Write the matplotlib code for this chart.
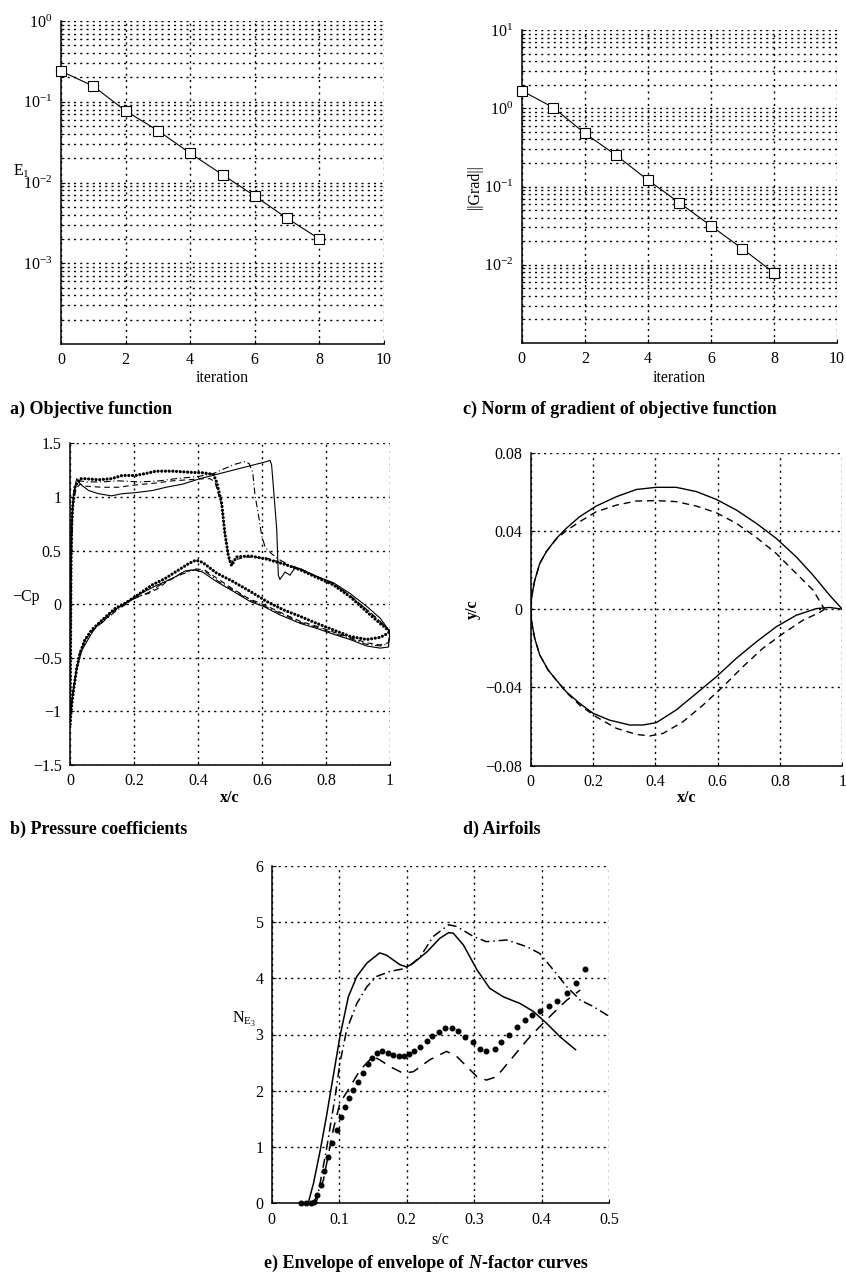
import numpy as np
import matplotlib
matplotlib.use('Agg')
import matplotlib.pyplot as plt
from matplotlib.ticker import FuncFormatter, LogLocator, NullFormatter, LogFormatterMathtext

plt.rcParams['font.family'] = ['Liberation Serif', 'DejaVu Serif']
plt.rcParams['mathtext.fontset'] = 'custom'
plt.rcParams['mathtext.rm'] = 'Liberation Serif'
plt.rcParams['mathtext.it'] = 'Liberation Serif:italic'
plt.rcParams['mathtext.bf'] = 'Liberation Serif:bold'
plt.rcParams['font.size'] = 11.5

# a) objective function and c) gradient norm vs iteration
iters = [0, 1, 2, 3, 4, 5, 6, 7, 8]
obj = [0.24, 0.156, 0.077, 0.044, 0.023, 0.0125, 0.0068, 0.0036, 0.002]
grad = [1.68, 1.02, 0.48, 0.25, 0.121, 0.062, 0.0315, 0.016, 0.0079]

# b) pressure coefficients, upper (u) and lower (l) surfaces
dot_ux = [0, 0.001, 0.002, 0.003, 0.005, 0.008, 0.012, 0.016, 0.032, 0.047, 0.089, 0.13, 0.163, 0.205, 0.247,
          0.268, 0.32, 0.374, 0.416, 0.448, 0.458, 0.474, 0.484, 0.495, 0.505, 0.52, 0.5625, 0.615, 0.667, 0.72,
          0.77, 0.823, 0.875, 0.927, 0.969, 1.0]
dot_uy = [-1.12, -0.8, -0.3, 0.3, 0.7, 0.9, 1.0, 1.1, 1.17, 1.17, 1.16, 1.17, 1.2, 1.2, 1.225,
          1.24, 1.24, 1.23, 1.225, 1.21, 1.14, 0.94, 0.66, 0.45, 0.36, 0.44, 0.45, 0.42, 0.375, 0.32,
          0.25, 0.18, 0.07, -0.07, -0.18, -0.256]
dot_lx = [0, 0.005, 0.012, 0.021, 0.031, 0.047, 0.068, 0.1, 0.141, 0.173, 0.204, 0.257, 0.298, 0.34, 0.372,
          0.393, 0.414, 0.458, 0.51, 0.5625, 0.615, 0.667, 0.72, 0.77, 0.823, 0.875, 0.927, 0.969, 0.995, 1.0]
dot_ly = [-1.12, -0.95, -0.78, -0.6, -0.46, -0.33, -0.24, -0.15, -0.04, 0.01, 0.07, 0.18, 0.24, 0.32, 0.38,
          0.41, 0.39, 0.29, 0.21, 0.12, 0.025, -0.053, -0.115, -0.178, -0.24, -0.30, -0.33, -0.31, -0.27, -0.256]

sol_ux = [0, 0.001, 0.002, 0.003, 0.005, 0.008, 0.012, 0.021, 0.032, 0.058, 0.089, 0.13, 0.163, 0.205, 0.258,
          0.3, 0.353, 0.406, 0.51, 0.615, 0.625, 0.63, 0.6375, 0.646, 0.651, 0.656, 0.672, 0.6875, 0.703, 0.72,
          0.77, 0.823, 0.875, 0.927, 0.969, 1.0]
sol_uy = [-1.05, -0.7, -0.2, 0.3, 0.7, 0.92, 1.05, 1.17, 1.12, 1.06, 1.03, 1.01, 1.03, 1.04, 1.06,
          1.09, 1.12, 1.17, 1.25, 1.33, 1.34, 1.30, 1.02, 0.70, 0.27, 0.23, 0.30, 0.27, 0.34, 0.33,
          0.26, 0.20, 0.10, -0.02, -0.13, -0.256]
sol_lx = [0, 0.005, 0.012, 0.021, 0.037, 0.068, 0.089, 0.131, 0.173, 0.215, 0.267, 0.32, 0.36, 0.387, 0.414,
          0.458, 0.51, 0.5625, 0.604, 0.656, 0.72, 0.77, 0.823, 0.875, 0.927, 0.969, 0.995, 1.0]
sol_ly = [-1.05, -0.92, -0.76, -0.6, -0.43, -0.27, -0.18, -0.07, 0.01, 0.09, 0.17, 0.24, 0.31, 0.32, 0.30,
          0.21, 0.12, 0.025, -0.02, -0.10, -0.18, -0.225, -0.28, -0.33, -0.39, -0.41, -0.40, -0.256]

dsh_ux = [0, 0.002, 0.004, 0.008, 0.012, 0.02, 0.032, 0.05, 0.1, 0.15, 0.2, 0.27, 0.32, 0.42, 0.4375,
          0.453, 0.474, 0.484, 0.495, 0.502, 0.51, 0.552, 0.615, 0.667, 0.72, 0.77, 0.823, 0.875, 0.927, 0.969, 1.0]
dsh_uy = [-1.1, -0.3, 0.4, 0.85, 1.0, 1.08, 1.12, 1.10, 1.09, 1.09, 1.11, 1.13, 1.15, 1.17, 1.17,
          1.14, 0.92, 0.66, 0.44, 0.356, 0.41, 0.44, 0.43, 0.38, 0.33, 0.26, 0.19, 0.08, -0.05, -0.16, -0.256]
low_x = [0, 0.005, 0.012, 0.021, 0.031, 0.047, 0.068, 0.089, 0.141, 0.2, 0.246, 0.277, 0.298, 0.35, 0.39,
         0.42, 0.46, 0.51, 0.56, 0.61, 0.66, 0.72, 0.77, 0.823, 0.875, 0.927, 0.969, 0.995, 1.0]
dsh_ly = [-1.1, -0.94, -0.77, -0.6, -0.46, -0.34, -0.25, -0.2, -0.06, 0.06, 0.10, 0.15, 0.2, 0.29, 0.33,
          0.32, 0.24, 0.14, 0.05, -0.01, -0.08, -0.16, -0.205, -0.26, -0.31, -0.36, -0.38, -0.36, -0.256]

dd_ux = [0, 0.002, 0.004, 0.008, 0.012, 0.02, 0.032, 0.05, 0.1, 0.15, 0.22, 0.28, 0.33, 0.40, 0.45, 0.51,
         0.547, 0.56, 0.571, 0.578, 0.589, 0.599, 0.61, 0.63, 0.651, 0.7, 0.77, 0.823, 0.875, 0.927, 0.969, 1.0]
dd_uy = [-1.1, -0.3, 0.4, 0.85, 1.0, 1.1, 1.15, 1.14, 1.14, 1.15, 1.14, 1.15, 1.17, 1.19, 1.22, 1.30,
         1.33, 1.31, 1.23, 1.02, 0.83, 0.64, 0.53, 0.47, 0.42, 0.34, 0.26, 0.19, 0.08, -0.05, -0.16, -0.256]
dd_ly = [-1.1, -0.94, -0.77, -0.6, -0.45, -0.33, -0.25, -0.2, -0.07, 0.05, 0.11, 0.17, 0.21, 0.28, 0.32,
         0.31, 0.22, 0.13, 0.04, -0.02, -0.09, -0.17, -0.215, -0.27, -0.32, -0.375, -0.39, -0.37, -0.256]

# d) airfoils
af1_ux = [0, 0.003, 0.013, 0.029, 0.05, 0.082, 0.114, 0.157, 0.21, 0.275, 0.339, 0.403, 0.467, 0.532,
          0.596, 0.66, 0.724, 0.788, 0.852, 0.906, 0.959, 1.0]
af1_uy = [0, 0.0063, 0.0148, 0.0233, 0.0294, 0.0361, 0.0413, 0.0473, 0.0527, 0.0575, 0.0612, 0.0623,
          0.0623, 0.0601, 0.0561, 0.0507, 0.0439, 0.0362, 0.0268, 0.0174, 0.0072, 0]
af1_lx = [0, 0.003, 0.013, 0.029, 0.056, 0.082, 0.114, 0.157, 0.2, 0.253, 0.318, 0.36, 0.403, 0.467,
          0.532, 0.596, 0.66, 0.724, 0.788, 0.852, 0.917, 0.959, 1.0]
af1_ly = [0, -0.0065, -0.015, -0.0234, -0.0311, -0.0362, -0.0422, -0.0481, -0.0532, -0.0567, -0.0592,
          -0.0592, -0.058, -0.0515, -0.043, -0.0345, -0.0251, -0.0167, -0.009, -0.0031, 0.0003, 0.0009, 0]
af2_ux = [0, 0.003, 0.013, 0.029, 0.05, 0.082, 0.114, 0.157, 0.21, 0.275, 0.339, 0.403, 0.467, 0.532,
          0.596, 0.66, 0.724, 0.788, 0.852, 0.906, 0.943]
af2_uy = [0, 0.0063, 0.0148, 0.0233, 0.0294, 0.0358, 0.0401, 0.0447, 0.0498, 0.0532, 0.0553, 0.0555,
          0.055, 0.0527, 0.0493, 0.0439, 0.0367, 0.0285, 0.0183, 0.0098, 0.0]
af2_lx = [0, 0.003, 0.013, 0.029, 0.056, 0.082, 0.114, 0.157, 0.21, 0.275, 0.339, 0.382, 0.425, 0.489,
          0.553, 0.617, 0.681, 0.745, 0.81, 0.874, 0.927, 0.943]
af2_ly = [0, -0.0065, -0.015, -0.0234, -0.0311, -0.0362, -0.0425, -0.049, -0.055, -0.0609, -0.064,
          -0.0648, -0.0635, -0.0575, -0.049, -0.0396, -0.0294, -0.02, -0.0124, -0.0056, -0.0017, 0.0]

# e) envelope of N-factor curves
ne_sol_x = [0.054, 0.062, 0.072, 0.081, 0.091, 0.101, 0.1135, 0.126, 0.141, 0.16, 0.17, 0.19, 0.2, 0.21,
            0.23, 0.249, 0.262, 0.269, 0.284, 0.304, 0.323, 0.343, 0.368, 0.3875, 0.407, 0.427, 0.45]
ne_sol_y = [0, 0.36, 0.95, 1.54, 2.25, 2.96, 3.67, 4.03, 4.27, 4.45, 4.41, 4.24, 4.2, 4.27,
            4.47, 4.71, 4.81, 4.80, 4.59, 4.15, 3.82, 3.67, 3.55, 3.41, 3.2, 2.96, 2.73]
ne_dd_x = [0.064, 0.067, 0.081, 0.094, 0.101, 0.111, 0.126, 0.141, 0.155, 0.175, 0.2, 0.22, 0.239, 0.262,
           0.274, 0.299, 0.318, 0.348, 0.378, 0.397, 0.417, 0.437, 0.457, 0.476, 0.5]
ne_dd_y = [0, 0.06, 0.95, 1.9, 2.49, 3.08, 3.55, 3.85, 4.03, 4.12, 4.18, 4.38, 4.74, 4.95,
           4.92, 4.74, 4.65, 4.68, 4.56, 4.44, 4.15, 3.85, 3.61, 3.50, 3.32]
ne_dsh_x = [0.062, 0.0765, 0.091, 0.101, 0.116, 0.131, 0.15, 0.16, 0.175, 0.195, 0.21, 0.234, 0.259, 0.274,
            0.289, 0.304, 0.318, 0.333, 0.358, 0.378, 0.397, 0.417, 0.437, 0.457]
ne_dsh_y = [0, 0.41, 1.30, 1.78, 2.07, 2.37, 2.61, 2.55, 2.43, 2.31, 2.34, 2.55, 2.70, 2.61,
            2.43, 2.25, 2.19, 2.25, 2.61, 2.90, 3.14, 3.38, 3.61, 3.79]
ne_dot_x = [0.044, 0.051, 0.058, 0.062, 0.067, 0.0725, 0.078, 0.084, 0.09, 0.096, 0.102, 0.109, 0.115, 0.121,
            0.128, 0.135, 0.142, 0.149, 0.156, 0.164, 0.172, 0.18, 0.188, 0.196, 0.203, 0.211, 0.22, 0.23,
            0.238, 0.248, 0.257, 0.267, 0.276, 0.287, 0.298, 0.308, 0.318, 0.33, 0.34, 0.352, 0.363, 0.375,
            0.386, 0.398, 0.411, 0.423, 0.437, 0.45, 0.464]
ne_dot_y = [0, 0, 0, 0.03, 0.15, 0.33, 0.58, 0.83, 1.07, 1.30, 1.54, 1.72, 1.88, 2.01,
            2.15, 2.31, 2.47, 2.58, 2.67, 2.70, 2.68, 2.64, 2.61, 2.61, 2.65, 2.71, 2.78, 2.89,
            2.97, 3.05, 3.11, 3.11, 3.07, 2.96, 2.86, 2.75, 2.71, 2.74, 2.86, 2.99, 3.13, 3.25,
            3.35, 3.42, 3.50, 3.60, 3.73, 3.91, 4.16]

W, H = 846, 1281
GRID = dict(color='black', linestyle=(0, (1.5, 3.0)), linewidth=1.0)
DASH = (0, (5, 3.5))
DASHDOT = (0, (6, 2.5, 1, 2.5))


def num_fmt(v, pos):
    return ('%g' % round(v, 6)).replace('-', '\u2212')


def make_ax(fig, left, top, right, bottom):
    ax = fig.add_axes([left / W, 1 - bottom / H, (right - left) / W, (bottom - top) / H])
    ax.spines['top'].set_visible(False)
    ax.spines['right'].set_visible(False)
    ax.spines['left'].set_linewidth(1.1)
    ax.spines['bottom'].set_linewidth(1.1)
    ax.tick_params(direction='in', length=3, width=0.8, pad=6)
    ax.tick_params(which='minor', direction='in', length=2, width=0.6)
    ax.set_axisbelow(True)
    return ax


def log_panel(ax, y, ylim, yticks):
    ax.plot(iters, y, color='black', lw=0.8, marker='s', ms=7, mfc='white', mec='black', mew=0.8,
            clip_on=False, zorder=3)
    ax.set_yscale('log')
    ax.set_xlim(0, 10)
    ax.set_ylim(*ylim)
    ax.set_xticks(range(0, 11, 2))
    ax.set_yticks(yticks)
    ax.yaxis.set_major_formatter(LogFormatterMathtext())
    ax.yaxis.set_minor_locator(LogLocator(base=10, subs=range(2, 10)))
    ax.yaxis.set_minor_formatter(NullFormatter())
    ax.grid(True, which='major', **GRID)
    ax.grid(True, which='minor', axis='y', **GRID)


def lin_grid(ax, xticks, yticks):
    ax.set_xlim(xticks[0], xticks[-1])
    ax.set_ylim(yticks[0], yticks[-1])
    ax.set_xticks(xticks)
    ax.set_yticks(yticks)
    ax.xaxis.set_major_formatter(FuncFormatter(num_fmt))
    ax.yaxis.set_major_formatter(FuncFormatter(num_fmt))
    ax.grid(True, **GRID)


fig = plt.figure(figsize=(W / 100, H / 100), dpi=100)

# a)
ax = make_ax(fig, 61, 21, 384, 344)
log_panel(ax, obj, (1e-4, 1), [1e-3, 1e-2, 1e-1, 1])
ax.text(-0.096, 0.535, 'E$_1$', transform=ax.transAxes, ha='right', va='center')
ax.text(0.5, -34 / 323, 'iteration', transform=ax.transAxes, ha='center', va='center')

# c)
ax = make_ax(fig, 521.7, 30, 837, 343)
log_panel(ax, grad, (1e-3, 10), [1e-2, 1e-1, 1, 10])
ax.text(-0.15, 0.5, '||Grad||', transform=ax.transAxes, ha='center', va='center', rotation=90)
ax.text(0.5, -35 / 313, 'iteration', transform=ax.transAxes, ha='center', va='center')

# b)
ax = make_ax(fig, 70, 443.3, 390, 765)
lin_grid(ax, np.linspace(0, 1, 6), np.linspace(-1.5, 1.5, 7))
for xs, ys in [(sol_ux, sol_uy), (sol_lx, sol_ly)]:
    ax.plot(xs, ys, color='black', lw=0.8)
for xs, ys in [(dsh_ux, dsh_uy), (low_x, dsh_ly)]:
    ax.plot(xs, ys, color='black', lw=0.8, linestyle=DASH)
for xs, ys in [(dd_ux, dd_uy), (low_x, dd_ly)]:
    ax.plot(xs, ys, color='black', lw=0.8, linestyle=DASHDOT)
for xs, ys in [(dot_ux, dot_uy), (dot_lx, dot_ly)]:
    ax.plot(xs, ys, color='black', lw=2.3, linestyle=(0, (0.01, 1.15)), dash_capstyle='round')
ax.text(-0.094, 0.522, '\u2212Cp', transform=ax.transAxes, ha='right', va='center')
ax.text(0.5, -33 / 321.7, 'x/c', transform=ax.transAxes, ha='center', va='center', fontweight='bold')

# d)
ax = make_ax(fig, 530.7, 452.7, 842.3, 765.7)
lin_grid(ax, np.linspace(0, 1, 6), [-0.08, -0.04, 0, 0.04, 0.08])
ax.plot(af1_ux, af1_uy, color='black', lw=1.0)
ax.plot(af1_lx, af1_ly, color='black', lw=1.0)
ax.plot(af2_ux, af2_uy, color='black', lw=1.0, linestyle=DASH)
ax.plot(af2_lx, af2_ly, color='black', lw=1.0, linestyle=DASH)
ax.text(-0.185, 0.5, 'y/c', transform=ax.transAxes, ha='center', va='center', rotation=90, fontweight='bold')
ax.text(0.5, -32 / 313, 'x/c', transform=ax.transAxes, ha='center', va='center', fontweight='bold')

# e)
ax = make_ax(fig, 271.7, 865.7, 609.3, 1203.3)
lin_grid(ax, np.linspace(0, 0.5, 6), np.arange(0, 7))
ax.plot(ne_sol_x, ne_sol_y, color='black', lw=1.1)
ax.plot(ne_dd_x, ne_dd_y, color='black', lw=1.1, linestyle=DASHDOT)
ax.plot(ne_dsh_x, ne_dsh_y, color='black', lw=1.1, linestyle=(0, (7, 5)))
ax.plot(ne_dot_x, ne_dot_y, color='black', linestyle='none', marker='o', ms=3.3, clip_on=False, zorder=3)
ax.text(-0.045, 0.545, r'N$_{\mathrm{E}_3}$', transform=ax.transAxes, ha='right', va='center')
ax.text(0.5, -37 / 337.6, 's/c', transform=ax.transAxes, ha='center', va='center')

# captions
cap = dict(fontsize=13, fontweight='bold', va='center')
fig.text(10 / W, 1 - 409 / H, 'a) Objective function', **cap)
fig.text(463 / W, 1 - 409 / H, 'c) Norm of gradient of objective function', **cap)
fig.text(10 / W, 1 - 829 / H, 'b) Pressure coefficients', **cap)
fig.text(463 / W, 1 - 829 / H, 'd) Airfoils', **cap)

r = fig.canvas.get_renderer()
parts = [('e) Envelope of envelope of\u00a0', 'normal'), ('N', 'italic'), ('-factor curves', 'normal')]
texts = [fig.text(0, 1 - 1263 / H, s, fontstyle=st, **cap) for s, st in parts]
widths = [t.get_window_extent(r).width for t in texts]
x0 = 426 - sum(widths) / 2
for t, w in zip(texts, widths):
    t.set_x(x0 / W)
    x0 += w

fig.savefig('out.png', dpi=100)
